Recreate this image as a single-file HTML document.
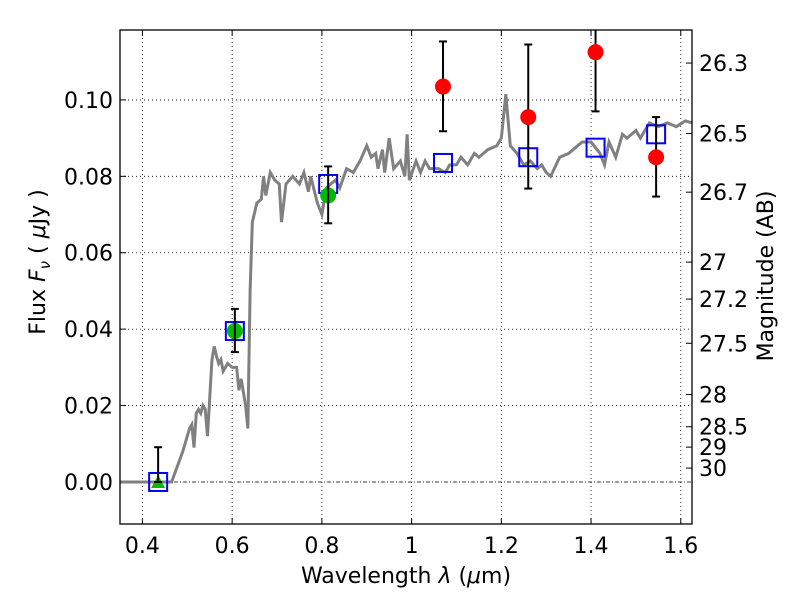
<!DOCTYPE html>
<html><head><meta charset="utf-8"><style>body{margin:0;background:#fff}svg text{font-family:"DejaVu Sans","Liberation Sans",sans-serif}</style></head>
<body>
<svg id="c" width="800" height="600"></svg>
<script>
const xTicks=[0.4,0.6,0.8,1.0,1.2,1.4,1.6];
const xTickLabels=["0.4","0.6","0.8","1","1.2","1.4","1.6"];
const yTicks=[0,0.02,0.04,0.06,0.08,0.10];
const yTickLabels=["0.00","0.02","0.04","0.06","0.08","0.10"];
const magTicks=[26.3,26.5,26.7,27,27.2,27.5,28,28.5,29,30];
const specLam=[0.35,0.465,0.49,0.505,0.51,0.515,0.52,0.525,0.53,0.535,0.54,0.545,0.555,0.56,0.565,0.57,0.575,0.58,0.59,0.6,0.61,0.615,0.62,0.63,0.635,0.64,0.645,0.655,0.665,0.67,0.675,0.685,0.695,0.705,0.71,0.72,0.735,0.75,0.76,0.77,0.775,0.79,0.80,0.81,0.83,0.84,0.855,0.87,0.885,0.9,0.91,0.92,0.925,0.935,0.94,0.95,0.96,0.975,0.985,0.99,0.995,1.01,1.02,1.03,1.04,1.06,1.075,1.085,1.1,1.11,1.125,1.14,1.15,1.17,1.19,1.2,1.21,1.22,1.235,1.25,1.265,1.28,1.29,1.3,1.31,1.33,1.35,1.38,1.4,1.42,1.43,1.44,1.455,1.47,1.48,1.5,1.51,1.53,1.55,1.57,1.59,1.61,1.625];
const specFlux=[0,0,0.008,0.014,0.015,0.009,0.018,0.019,0.018,0.020,0.019,0.012,0.032,0.0355,0.033,0.031,0.032,0.029,0.031,0.030,0.030,0.024,0.027,0.020,0.014,0.05,0.068,0.073,0.074,0.080,0.075,0.081,0.079,0.078,0.068,0.078,0.080,0.078,0.081,0.076,0.080,0.073,0.070,0.077,0.079,0.077,0.082,0.081,0.084,0.088,0.085,0.086,0.082,0.087,0.081,0.090,0.082,0.084,0.080,0.091,0.079,0.084,0.081,0.084,0.082,0.082,0.081,0.083,0.083,0.085,0.083,0.086,0.085,0.087,0.088,0.090,0.1015,0.088,0.086,0.083,0.084,0.082,0.083,0.081,0.080,0.085,0.086,0.089,0.089,0.086,0.083,0.089,0.085,0.091,0.090,0.092,0.090,0.094,0.093,0.094,0.093,0.0945,0.094];
const modelLam=[0.435,0.606,0.814,1.07,1.26,1.41,1.545];
const modelFlux=[0.0,0.0395,0.078,0.0835,0.085,0.0875,0.091];
const obsLam=[1.07,1.26,1.41,1.545];
const obsFlux=[0.1035,0.0955,0.1125,0.085];
const obsLo=[0.0918,0.0768,0.097,0.0747];
const obsHi=[0.1153,0.1145,0.128,0.0955];
const gLam=[0.435,0.606,0.814];
const gFlux=[0.0,0.0395,0.075];
const gLo=[0.0,0.034,0.0677];
const gHi=[0.0091,0.0453,0.0826];

const L=120,R=692,T=30,B=524,X0=0.35,X1=1.625,Y0=-0.011,Y1=0.1183;
const sx=v=>L+(v-X0)/(X1-X0)*(R-L);
const sy=v=>B-(v-Y0)/(Y1-Y0)*(B-T);
const svg=document.getElementById('c');const NS='http://www.w3.org/2000/svg';
function mk(t,a,p){const e=document.createElementNS(NS,t);for(const k in a)e.setAttribute(k,a[k]);(p||svg).appendChild(e);return e;}
const clip=mk('clipPath',{id:'pc'});mk('rect',{x:L,y:T,width:R-L,height:B-T},clip);
xTicks.forEach((v,i)=>{
 const g=mk('line',{x1:sx(v),x2:sx(v),y1:T,y2:B,stroke:'#000','stroke-width':0.8,'stroke-dasharray':'1,3'});
 
 mk('line',{x1:sx(v),x2:sx(v),y1:B,y2:B-6,stroke:'#000'});mk('line',{x1:sx(v),x2:sx(v),y1:T,y2:T+6,stroke:'#000'});
 const t=mk('text',{x:sx(v),y:B+29,'font-size':22,'text-anchor':'middle'});t.textContent=xTickLabels[i];
 
});
yTicks.forEach((v,i)=>{
 const g=mk('line',{x1:L,x2:R,y1:sy(v),y2:sy(v),stroke:'#000','stroke-width':0.8,'stroke-dasharray':v===0?'4,2,1,2':'1,3'});
 
 mk('line',{x1:L,x2:L+6,y1:sy(v),y2:sy(v),stroke:'#000'});
 const t=mk('text',{x:L-7,y:sy(v)+8,'font-size':22,'text-anchor':'end'});t.textContent=yTickLabels[i];
 
});
magTicks.forEach(m=>{
 const f=Math.pow(10,(23.9-m)/2.5);const y=sy(f);
 mk('line',{x1:R-6,x2:R,y1:y,y2:y,stroke:'#000'});
 const t=mk('text',{x:R+7,y:y+8,'font-size':22});t.textContent=String(m);
 
});
const sp=mk('polyline',{points:specLam.map((l,i)=>sx(l)+','+sy(specFlux[i])).join(' '),fill:'none',stroke:'#808080','stroke-width':3,'clip-path':'url(#pc)'});

modelLam.forEach((l,i)=>{const r=mk('rect',{x:sx(l)-9,y:sy(modelFlux[i])-9,width:18,height:18,fill:'none',stroke:'#0000ff','stroke-width':2});
 });
function err(l,lo,hi){const x=sx(l);const g=mk('g',{'clip-path':'url(#pc)',stroke:'#000','stroke-width':2});
 mk('line',{x1:x,x2:x,y1:sy(lo),y2:sy(hi)},g);mk('line',{x1:x-4,x2:x+4,y1:sy(lo),y2:sy(lo)},g);mk('line',{x1:x-4,x2:x+4,y1:sy(hi),y2:sy(hi)},g);return g;}
gLam.forEach((l,i)=>{
 if(i===0){const x=sx(l),y=sy(gFlux[i]);const p=mk('polygon',{points:`${x},${y-7} ${x-7},${y+6} ${x+7},${y+6}`,fill:'#00bb00'});
  }
 else{const c=mk('circle',{cx:sx(l),cy:sy(gFlux[i]),r:8,fill:'#00bb00'});
  }
 const e=err(l,gLo[i],gHi[i]);
});
obsLam.forEach((l,i)=>{
 const e=err(l,obsLo[i],obsHi[i]);
 const c=mk('circle',{cx:sx(l),cy:sy(obsFlux[i]),r:8,fill:'#ff0000'});
 
});
const fr=mk('rect',{x:L,y:T,width:R-L,height:B-T,fill:'none',stroke:'#000','stroke-width':1.3});

const xl=mk('text',{x:(L+R)/2,y:583,'font-size':22,'text-anchor':'middle'});xl.innerHTML='Wavelength  <tspan font-style="italic">λ</tspan> (<tspan font-style="italic">μ</tspan>m)';

const yl=mk('text',{x:0,y:0,'font-size':22,'text-anchor':'middle',transform:'translate(45,262) rotate(-90)'});yl.innerHTML='Flux  <tspan font-style="italic">F</tspan><tspan font-style="italic" font-size="15" dy="5">ν</tspan><tspan dy="-5">  ( </tspan><tspan font-style="italic">μ</tspan>Jy )';

const ml=mk('text',{x:0,y:0,'font-size':22,'text-anchor':'middle',transform:'translate(773,276) rotate(-90)'});ml.textContent='Magnitude (AB)';

</script>
</body></html>
